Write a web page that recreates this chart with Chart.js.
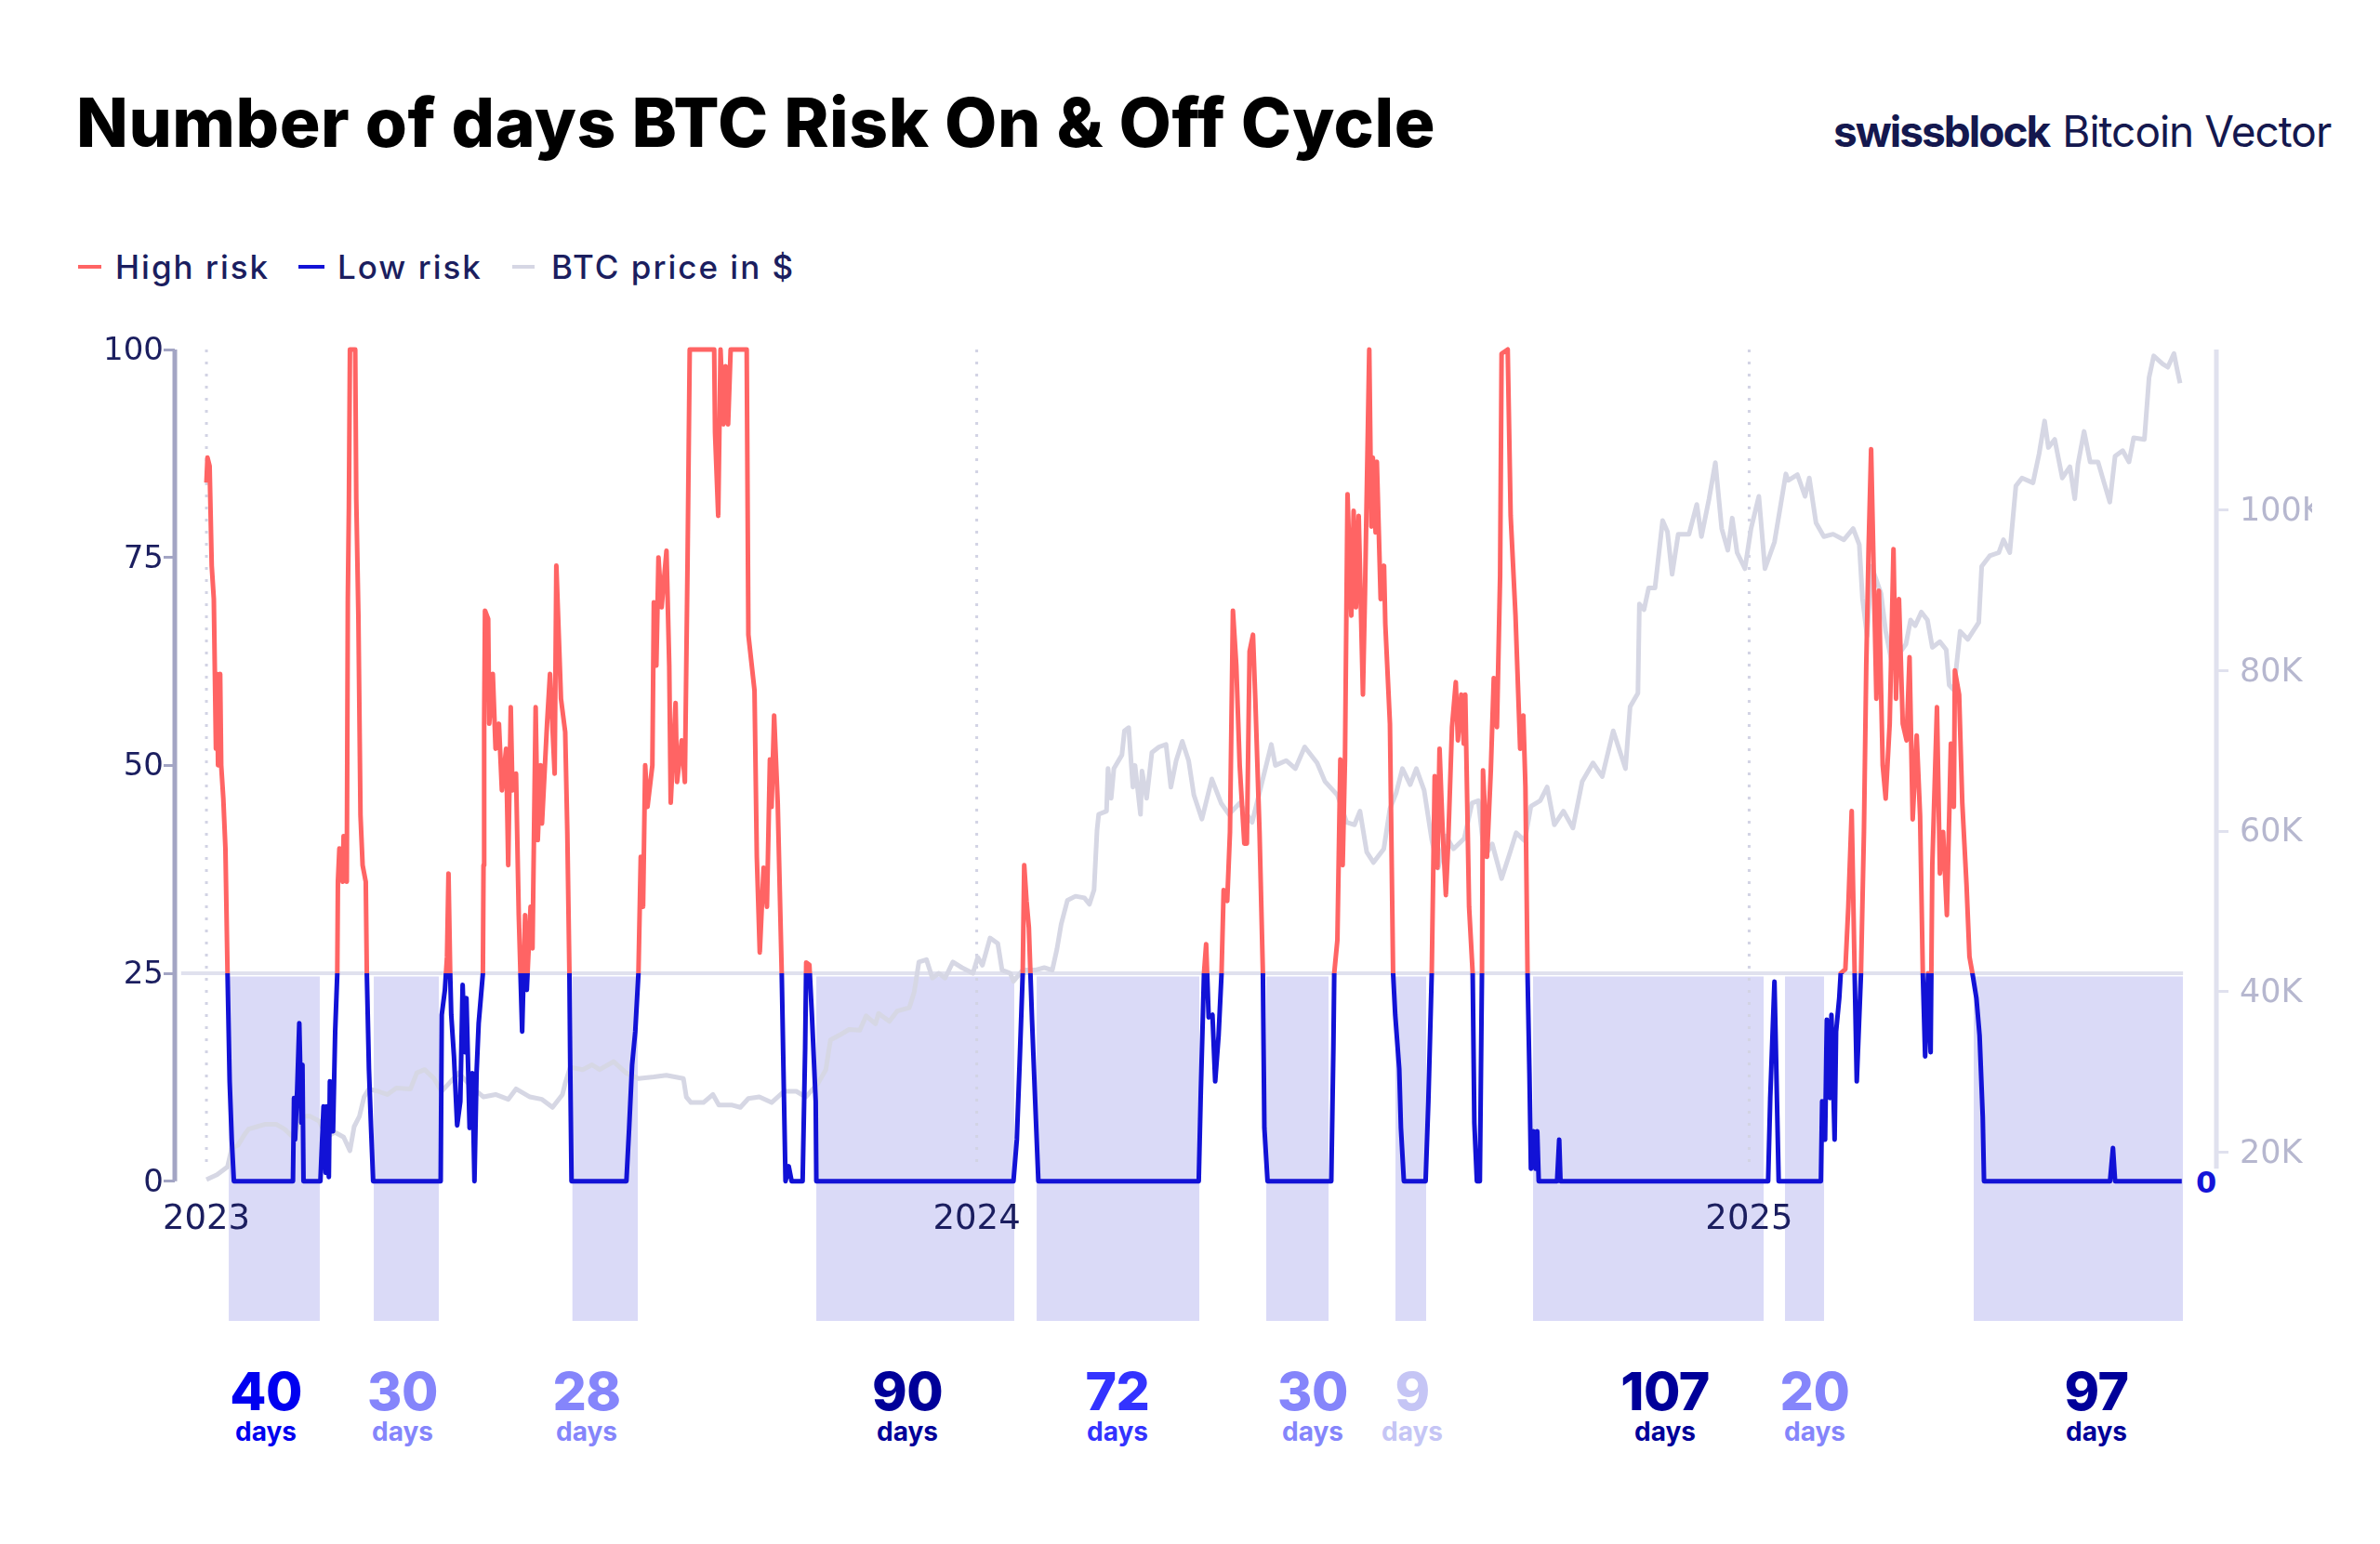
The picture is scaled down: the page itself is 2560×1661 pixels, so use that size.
<!DOCTYPE html>
<html>
<head>
<meta charset="utf-8">
<title>Number of days BTC Risk On & Off Cycle</title>
<script src="https://cdn.jsdelivr.net/npm/chart.js@4/dist/chart.umd.min.js"></script>
<style>
  html, body { margin: 0; padding: 0; background: #fff; width: 2560px; height: 1661px; overflow: hidden; }
  body { position: relative; font-family: Inter, sans-serif; }
  canvas { position: absolute; left: 0; top: 0; }
  .abs { position: absolute; white-space: nowrap; line-height: 1; }
  #title { left: 82px; top: 95px; font-size: 73px; font-weight: 800; color: #000; letter-spacing: 0.55px; }
  #logo { left: 1972px; top: 118px; font-size: 46px; color: #14184f; letter-spacing: -1px; }
  #logo b { font-weight: 700; margin-right: 14px; letter-spacing: -2px; }
  .legend-text { top: 270px; font-size: 35px; font-weight: 500; color: #1b1e5f; letter-spacing: 2px; }
  .swatch { top: 285px; height: 4px; }
  .num { top: 1468px; font-size: 57px; font-weight: 800; transform: translateX(-50%); letter-spacing: -0.5px; }
  .days { top: 1526px; font-size: 28px; font-weight: 700; transform: translateX(-50%); }
  #zero { left: 2362px; top: 1256px; font-size: 32px; font-weight: 700; font-family: "DejaVu Sans"; color: #1414d8; }
</style>
</head>
<body>
<div class="abs" id="title">Number of days BTC Risk On &amp; Off Cycle</div>
<div class="abs" id="logo"><b>swissblock</b>Bitcoin Vector</div>
<div id="legend"></div>
<div id="cycles"></div>
<div class="abs" id="zero">0</div>
<canvas id="riskChart" width="2487" height="1661"></canvas>
<script>
// all x values are days since 2023-01-01
const yearTicks = [0, 365, 731];
const yearLabels = ["2023", "2024", "2025"];
const riskTicks = [0, 25, 50, 75, 100];
const priceTicks = [20000, 40000, 60000, 80000, 100000];
const priceTickLabels = ["20K", "40K", "60K", "80K", "100K"];

const riskDays = [
  0, 0.5, 1.5, 2.5, 3.5, 4, 4.5, 5, 5.5, 6.5, 7, 8, 9, 10, 11, 12, 13,
  41, 41.5, 42, 43, 44, 45, 45.5, 46, 54, 55.5, 56.5, 57, 58, 58.5, 60, 61, 62, 62.3, 63, 64.5, 65, 66.5, 67, 67.5, 68, 70.5, 71, 72, 73, 74, 75.5, 76, 77, 78, 79,
  111, 111.5, 113, 114, 114.7, 115.5, 116, 117.3, 118.8, 120.3, 121.4, 122.5, 123.2, 124.7, 126, 127, 128, 129, 131, 131.3, 131.6, 132, 133.5, 134, 135.7, 137, 138.6, 140, 142, 143, 144.2, 145, 146.7, 148, 149.6, 151, 151.8, 153.6, 154.5, 156, 157, 158.4, 159, 161.4, 162.8, 165, 165.8, 168, 170, 171, 172, 172.4, 173,
  199, 200.3, 201.7, 203.2, 204.7, 205.8, 206.9, 207.9, 209, 211.3, 212, 213.2, 214.2, 215.7, 216.7, 218, 219.3, 220, 222.3, 223, 225.2, 226.7, 228, 229, 240.6, 241, 242.5, 243.6, 245, 246, 247.2, 248.4, 256, 256.8, 259.7, 260.8, 262.2, 264, 265.6, 267, 267.8, 269, 270.7, 272.6, 273.7, 274.4, 275.9, 277.3,
  282.5, 283.7, 284.2, 285.7, 286.9, 288.7, 289,
  382.4, 384, 385.3, 386.8, 387.5, 388.6, 389.7, 391.2, 392.7, 394.2,
  470.2, 471.2, 472.7, 473.7, 474.9, 476.7, 478, 479.6, 481, 482, 483.7, 485, 486.4, 488, 489.6, 491.8, 493, 494.3, 495.9, 497, 499, 500.6, 501.3, 502.8,
  533, 534, 534.4, 535.9, 537.3, 538.4, 539.5, 540.7, 542.5, 543.6, 544.7, 546, 548, 549, 551, 552, 552.7, 554, 554.6, 556.4, 558, 558.6, 560.8, 562.3, 563.3, 565.2, 566, 567.4,
  577.7, 579, 580.6, 582, 583.3, 584.3, 585.8, 587.3, 588.3, 590.2, 592, 593, 594.6, 595.8, 596.5, 598.3, 600, 600.8, 602, 603.4, 604.4, 604.9, 606.8, 608.6, 610, 611.5, 613, 613.7, 616.6, 618, 620.3, 622.5, 624, 625, 626, 626.9, 627.6, 628.8, 629.8, 630.6, 631.3,
  640, 641, 641.6,
  740, 741, 743, 745,
  765, 765.6, 767, 767.8, 769.3, 770, 771.5, 772.2, 773.7, 774.4, 776.6, 778, 779.6, 781, 782, 784, 785.4, 786.5, 787.6, 788.8, 789.8, 791.3, 792.5, 794.3, 795.7, 797.6, 799.4, 800.6, 802, 803.8, 805.6, 807, 808.5, 810.4, 812, 813.3, 814.4, 815.8, 817, 817.8, 820, 821.4, 822.9, 824.7, 826.6, 828, 828.5, 830.5, 832, 834, 835.4, 836.8, 838.7, 840.2, 841.7, 842.3,
  902, 903.4, 904.4, 936
];
const riskValues = [
  84, 87, 86, 74, 70, 61, 52, 61, 50, 61, 50, 46, 40, 25, 12, 5, 0,
  0, 10, 5, 11, 19, 7, 14, 0, 0, 9, 1, 9, 0.5, 12, 6, 18, 25, 36, 40, 36, 41.5, 36, 70, 81, 100, 100, 82, 68, 44, 38, 36, 25, 13.5, 6.5, 0,
  0, 20, 23, 27, 37, 25, 20, 15, 6.7, 9.6, 23.6, 15.5, 22, 6.4, 13, 0, 13, 19, 25, 38, 55, 68.6, 67.6, 55, 61, 52, 55, 47, 52, 38, 57, 47, 49, 32, 18, 32, 23, 33, 28, 57, 41, 50, 43, 55, 61, 49, 74, 58, 54, 42, 25, 13.5, 0,
  0, 6.4, 14, 18, 25, 39, 33, 50, 45, 50, 69.6, 62, 75, 69, 72, 75.8, 62, 45.5, 57.5, 48, 53, 48, 75, 100, 100, 90, 80, 100, 91, 98, 91, 100, 100, 65.7, 59, 39, 27.5, 37.7, 33, 50.7, 45, 56, 45.5, 25, 9.6, 0, 1.8, 0,
  0, 16, 26.3, 26, 20, 9.6, 0,
  0, 5, 14, 25, 38, 33.7, 30.5, 19.4, 9.6, 0,
  0, 11, 25, 28.5, 19.7, 20, 12, 17.5, 25, 35, 33.7, 42, 68.6, 62, 50, 40.6, 40.6, 63.7, 65.7, 58, 42, 25, 6.4, 0,
  0, 16, 25, 29, 50.7, 38, 50.7, 82.6, 68, 80.6, 69, 80, 58.5, 71, 100, 78.7, 87, 78, 86.5, 70, 74, 67, 55, 25, 20, 13.5, 6.4, 0,
  0, 9.6, 25, 48.7, 37.7, 52, 42, 34.4, 40, 54.6, 60, 53, 58.5, 52.6, 58.5, 33, 25, 7, 0, 0, 25, 49.4, 39, 49.4, 60.5, 54.6, 72.8, 99.5, 100, 80, 68, 52, 56, 47.4, 25, 13, 1.5, 6, 1.5, 6, 0,
  0, 5, 0,
  0, 10, 24, 0,
  0, 9.6, 5, 19.4, 10, 20, 5, 18, 22, 25, 25.5, 33, 44.5, 25, 12, 25, 42, 62, 76, 88, 76, 58, 71, 50, 46, 55, 76, 58, 70, 55, 53, 63, 43.5, 53.6, 44, 25, 15, 25, 15.5, 38, 57, 37, 42, 32, 52.6, 45, 61.4, 58.5, 45.5, 35.7, 27, 25, 22, 17.5, 7.7, 0,
  0, 4, 0, 0
];

const priceDays = [
  0, 5, 10, 12, 15, 18, 20, 24, 28, 33, 37, 41, 45, 49, 53.4, 57, 60.8, 65, 68, 70, 72.5, 74.7, 77, 81.3, 85.7, 90, 96.7, 99.7, 103.4, 107.8, 111.4, 115, 119.5, 125.4, 131.3, 137, 143, 146.7, 153.3, 159, 164, 168.7, 170, 172.4, 178.3, 182.7, 186.3, 193,
  198.8, 204.7, 212, 217.9, 226, 227.4, 229.6, 235.5, 240, 242.8, 248.7, 253, 256.8, 262, 267.8, 273.7, 279.5, 284, 289.8, 293.5, 295.7, 300, 304.5, 309.6, 312.6, 317, 318.5, 323.6, 327.3, 333, 335.4, 337.6, 341.2, 344, 347, 350, 353.7, 358, 363.2, 365.5, 367.7, 371.3, 375, 377, 380.9, 382.4, 386.8,
  392.7, 397, 400.8, 403, 405, 408, 411.8, 416, 418.4, 420.6, 422, 422.8, 426.5, 427.2, 428.7, 430, 433.8, 435, 437, 439, 440, 442.6, 443.3, 445.5, 448, 451.4, 454.7, 457, 459.5, 462.4, 465.4, 467.9, 471.7, 476.4, 480.8, 484.5, 489.6, 495.5, 499.9, 504.6, 506.5, 511.6, 516, 520.4, 526.3, 530, 535.9, 540.3, 544, 546.6, 549.8, 553, 557.9, 560.8, 563.8, 566.7, 570.4, 573.3, 577,
  580.7, 583.6, 587.3, 590.9, 596, 599.7, 602.7, 605.6, 609.3, 613.7, 617.4, 620.6, 624.7, 627.6, 632, 635.3, 638.7, 643, 647.5, 651.9, 657, 661.4, 666.6, 672.4, 674.6, 678.3, 679, 681.2, 683.4, 686.4, 690, 692.3, 694.5, 697.4, 702.5, 706.2, 708.4, 712, 715, 718, 720.9, 723, 725.3, 729, 731.9, 735.6, 738.5, 743, 748.4,
  749.5, 753.9, 757.5, 759.5, 762.7, 766.4, 770.8, 775.9, 780.3, 783.2, 784.7, 786.9, 789, 793.5, 795.7, 798.7, 805.3, 807.5, 809.7, 812.6, 815.5, 817.8, 821.4, 824.4, 825.8, 828, 831, 834.6, 839.8, 841.2, 845, 849.3, 851.5, 854.5, 857.4, 860.3, 865.5, 868.4, 871, 872.8, 875.8, 879.4, 883, 885.3, 886.8, 889.7, 892.6, 896.3, 899.2, 901.9, 904.4, 908, 911, 913.2, 918.3, 920.5, 922.7, 927, 929.4, 932.3, 933.8, 935.2
];
const priceValues = [
  16600, 17200, 18200, 20500, 20900, 22200, 22900, 23200, 23500, 23500, 22900, 21900, 24500, 24500, 23900, 21900, 22500, 21900, 20200, 23200, 24500, 26900, 27900, 27600, 27200, 28000, 27900, 29900, 30300, 29200, 27600, 28600, 29900, 28200, 26900, 27200, 26600, 27900, 26900, 26600, 25600, 27200, 28600, 30600, 30300, 30900, 30300, 31300,
  29900, 29200, 29400, 29600, 29200, 26900, 26200, 26200, 27200, 25900, 25900, 25600, 26700, 26900, 26200, 27600, 27600, 26900, 28600, 30300, 34000, 34600, 35300, 35200, 37000, 36000, 37300, 36300, 37600, 38000, 40000, 43700, 44000, 41700, 42300, 41700, 43700, 43000, 42300, 44300, 43300, 46700, 46000, 42700, 42300, 41300, 42700,
  42700, 43000, 42700, 45300, 48400, 51400, 51900, 51700, 50900, 52700, 60100, 62100, 62500, 67800, 64100, 67800, 69500, 72500, 72900, 65500, 68200, 62100, 67500, 64100, 69800, 70500, 70800, 65500, 68800, 71200, 68800, 64500, 61500, 66500, 63500, 62100, 63500, 61100, 65800, 70800, 68200, 68800, 67800, 70500, 68500, 66200, 64500, 61100, 60800, 62500, 57400, 56100, 57800, 62800, 64800, 67800, 65800, 67800, 65100,
  58800, 55400, 59400, 57800, 59100, 63500, 63800, 56800, 58400, 54100, 57100, 59800, 58800, 63100, 63800, 65500, 60800, 62500, 60400, 66200, 68500, 66800, 72500, 67800, 75500, 77200, 88300, 87600, 90300, 90300, 98700, 97300, 92000, 97000, 97000, 100700, 96700, 101400, 105900, 97700, 95000, 99000, 94700, 92700, 97700, 101700, 92700, 96000, 104500,
  103700, 104400, 101700, 104000, 98400, 96700, 97000, 96300, 97700, 95700, 89000, 84300, 93000, 89600, 84900, 80900, 83300, 86300, 85600, 87300, 86300, 82900, 83600, 82600, 78200, 77600, 84900, 83900, 86000, 93000, 94300, 94700, 96300, 94700, 103000, 104000, 103400, 107000, 111100, 107800, 108800, 104000, 105400, 101400, 105700, 109800, 106000, 106000, 103400, 101000, 106700, 107400, 106000, 109000, 108800, 116500, 119200, 118200, 117800, 119500, 117500, 115800
];

const bandStarts = [10.6, 79.3, 173.3, 289, 393.4, 502.2, 563.4, 628.6, 748, 837.4];
const bandEnds = [53.7, 110.1, 204.4, 382.8, 470.5, 531.7, 578, 737.9, 766.5, 936.6];

const cycleDays = ["40", "30", "28", "90", "72", "30", "9", "107", "20", "97"];
const cycleColors = ["#0000f0", "#8585fb", "#8585fb", "#000099", "#3333ff", "#8585fb", "#c5c5f5", "#000099", "#8585fb", "#000099"];
const cycleCenters = [286, 433, 631, 976, 1202, 1412, 1519, 1791, 1952, 2255];

const HIGH_RED = "#ff6464";
const LOW_BLUE = "#1212d6";
const PRICE_GREY = "#d6d7e4";
const BAND_LILAC = "#dadaf7";
const AXIS_NAVY = "#1b1e5f";

function toPoints(xs, ys) {
  return xs.map((x, i) => ({ x: x, y: ys[i] }));
}

function bandPoints() {
  const points = [];
  bandStarts.forEach((start, i) => {
    points.push({ x: start, y: 24.6 }, { x: bandEnds[i], y: 24.6 }, { x: bandEnds[i], y: null });
  });
  return points;
}

function yearLinePoints() {
  const points = [];
  yearTicks.forEach((year) => {
    points.push({ x: year, y: 100 }, { x: year, y: 2 }, { x: year, y: null });
  });
  return points;
}

function buildHtmlLabels() {
  const legend = document.getElementById("legend");
  const items = [
    ["High risk", HIGH_RED, 84, 25, 124],
    ["Low risk", LOW_BLUE, 321, 28, 363],
    ["BTC price in $", PRICE_GREY, 551, 24, 593],
  ];
  items.forEach((item) => {
    const swatch = document.createElement("div");
    swatch.className = "abs swatch";
    swatch.style.background = item[1];
    swatch.style.left = item[2] + "px";
    swatch.style.width = item[3] + "px";
    legend.appendChild(swatch);
    const text = document.createElement("div");
    text.className = "abs legend-text";
    text.style.left = item[4] + "px";
    text.innerText = item[0];
    legend.appendChild(text);
  });

  const cycles = document.getElementById("cycles");
  cycleDays.forEach((count, i) => {
    const num = document.createElement("div");
    num.className = "abs num";
    num.style.left = cycleCenters[i] + "px";
    num.style.color = cycleColors[i];
    num.innerText = count;
    cycles.appendChild(num);
    const days = document.createElement("div");
    days.className = "abs days";
    days.style.left = cycleCenters[i] + "px";
    days.style.color = cycleColors[i];
    days.innerText = "days";
    cycles.appendChild(days);
  });
}

// the oscillator is one series, cut in two at the 25 level
const splitAt25 = {
  id: "splitAt25",
  beforeDatasetDraw(chart, args) {
    const side = chart.data.datasets[args.index].riskSide;
    if (!side) return;
    const y = chart.scales.y.getPixelForValue(25);
    const ctx = chart.ctx;
    ctx.save();
    ctx.beginPath();
    if (side === "high") {
      ctx.rect(0, 0, chart.width, y);
    } else {
      ctx.rect(0, y, chart.width, chart.height - y);
    }
    ctx.clip();
  },
  afterDatasetDraw(chart, args) {
    if (chart.data.datasets[args.index].riskSide) chart.ctx.restore();
  },
};

const axisLines = {
  id: "axisLines",
  beforeDatasetsDraw(chart) {
    const ctx = chart.ctx;
    const left = chart.scales.y;
    const right = chart.scales.price;
    ctx.save();
    ctx.lineWidth = 5;
    ctx.strokeStyle = "#a3a5c4";
    ctx.beginPath();
    ctx.moveTo(left.right, left.getPixelForValue(100));
    ctx.lineTo(left.right, left.getPixelForValue(0));
    ctx.stroke();
    ctx.strokeStyle = "#e0e1ee";
    ctx.beginPath();
    ctx.moveTo(right.left, left.getPixelForValue(100));
    ctx.lineTo(right.left, left.getPixelForValue(1.5));
    ctx.stroke();
    ctx.restore();
  },
};

function initializeChart() {
  const ctx = document.getElementById("riskChart").getContext("2d");
  const riskPoints = toPoints(riskDays, riskValues);
  new Chart(ctx, {
    type: "line",
    data: {
      datasets: [
        {
          label: "High risk",
          data: riskPoints,
          riskSide: "high",
          borderColor: HIGH_RED,
          borderWidth: 5,
          borderJoinStyle: "round",
          clip: 8,
          order: 1,
        },
        {
          label: "Low risk",
          data: riskPoints,
          riskSide: "low",
          borderColor: LOW_BLUE,
          borderWidth: 5,
          borderJoinStyle: "round",
          clip: 8,
          order: 2,
        },
        {
          label: "BTC price in $",
          data: toPoints(priceDays, priceValues),
          yAxisID: "price",
          borderColor: PRICE_GREY,
          borderWidth: 5,
          borderJoinStyle: "round",
          clip: 8,
          order: 3,
        },
        {
          label: "Year lines",
          data: yearLinePoints(),
          borderColor: "#d2d3e4",
          borderWidth: 3,
          borderDash: [3, 10],
          order: 4,
        },
        {
          label: "Level 25",
          data: [{ x: -12, y: 25 }, { x: 936.6, y: 25 }],
          borderColor: "#e0e1ee",
          borderWidth: 4,
          order: 5,
        },
        {
          label: "Off cycles",
          data: bandPoints(),
          borderWidth: 0,
          backgroundColor: BAND_LILAC,
          fill: { value: -16.8 },
          order: 6,
        },
      ],
    },
    options: {
      responsive: false,
      animation: false,
      devicePixelRatio: 1,
      layout: { padding: { top: 376, bottom: 240, left: 0, right: 0 } },
      elements: { point: { radius: 0 }, line: { tension: 0 } },
      plugins: { legend: { display: false }, tooltip: { enabled: false } },
      scales: {
        x: {
          type: "linear",
          position: { y: 0 },
          min: -15,
          max: 952.4,
          grid: { display: false },
          border: { display: false },
          afterBuildTicks: (scale) => {
            scale.ticks = yearTicks.map((v) => ({ value: v }));
          },
          ticks: {
            z: 1,
            autoSkip: false,
            maxRotation: 0,
            padding: 11,
            color: AXIS_NAVY,
            font: { family: "DejaVu Sans", size: 37 },
            callback: (value) => yearLabels[yearTicks.indexOf(value)],
          },
        },
        y: {
          position: "left",
          min: -16.8,
          max: 100,
          border: { display: false },
          grid: {
            drawOnChartArea: false,
            tickLength: 12,
            tickWidth: 3,
            tickColor: "#a3a5c4",
          },
          afterBuildTicks: (scale) => {
            scale.ticks = riskTicks.map((v) => ({ value: v }));
          },
          afterFit: (scale) => {
            scale.width = 188;
          },
          ticks: {
            padding: 0,
            labelOffset: 2,
            color: AXIS_NAVY,
            font: { family: "DejaVu Sans", size: 34 },
          },
        },
        price: {
          position: "right",
          min: -1000,
          max: 120000,
          border: { display: false },
          grid: {
            drawOnChartArea: false,
            tickLength: 13,
            tickWidth: 3,
            tickColor: "#e0e1ee",
          },
          afterBuildTicks: (scale) => {
            scale.ticks = priceTicks.map((v) => ({ value: v }));
          },
          afterFit: (scale) => {
            scale.width = 103;
          },
          ticks: {
            padding: 12,
            labelOffset: 2,
            color: "#b6b7cf",
            font: { family: "DejaVu Sans", size: 35 },
            callback: (value) => priceTickLabels[priceTicks.indexOf(value)],
          },
        },
      },
    },
    plugins: [splitAt25, axisLines],
  });
}

document.addEventListener("DOMContentLoaded", () => {
  buildHtmlLabels();
  initializeChart();
});
</script>
</body>
</html>
